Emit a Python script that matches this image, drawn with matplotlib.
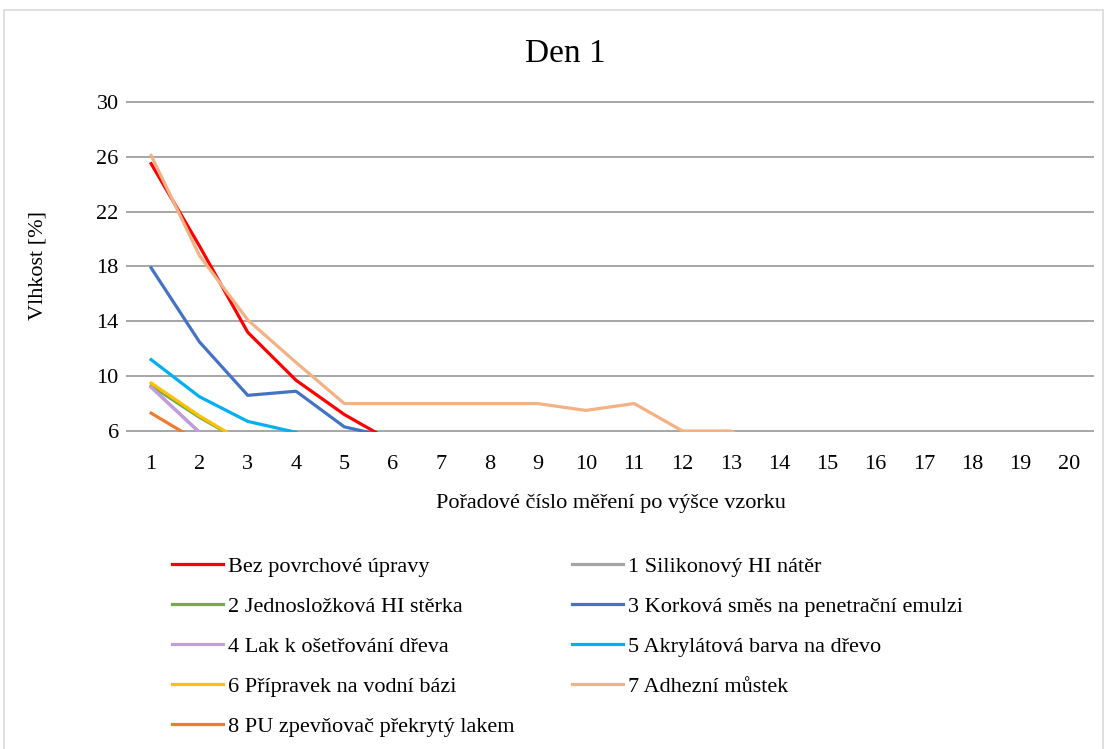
import numpy as np
import matplotlib.pyplot as plt
from matplotlib.patches import Rectangle

plt.rcParams.update({'font.family': 'Liberation Serif', 'font.size': 16})

nan = np.nan
x = np.arange(1, 21)

# values below 6 are hidden by the axis minimum, only the first one is kept
series_names = ['Bez povrchové úpravy', '1 Silikonový HI nátěr', '2 Jednosložková HI stěrka',
                '3 Korková směs na penetrační emulzi', '4 Lak k ošetřování dřeva',
                '5 Akrylátová barva na dřevo', '6 Přípravek na vodní bázi',
                '7 Adhezní můstek', '8 PU zpevňovač překrytý lakem']
bez = [25.5, 19.5, 13.2, 9.7, 7.2, 5.2] + [nan]*14
silikon = [9.2, 5.9] + [nan]*18
sterka = [9.3, 7.0, 5.0] + [nan]*17
korek = [17.9, 12.5, 8.6, 8.9, 6.3, 5.5] + [nan]*14
lak = [9.2, 5.9] + [nan]*18
akryl = [11.2, 8.5, 6.7, 5.9] + [nan]*16
pripravek = [9.5, 7.1, 5.0] + [nan]*17
adhez = [26.1, 18.8, 14.1, 11.0, 8.0, 8.0, 8.0, 8.0, 8.0, 7.5, 8.0, 6.0, 6.0, 4.0] + [nan]*6
pu = [7.3, 5.2] + [nan]*18
all_series = [bez, silikon, sterka, korek, lak, akryl, pripravek, adhez, pu]
colors = ['#ff0000', '#a5a5a5', '#70ad47', '#4472c4', '#c39be3',
          '#00b0f0', '#ffc000', '#f4b183', '#ed7d31']

fig = plt.figure(figsize=(11.1, 7.49), dpi=100)
fig.patches.append(Rectangle((0.004, -0.05), 0.99, 1.036, transform=fig.transFigure,
                             fill=False, edgecolor='#d9d9d9', linewidth=1.2))

ax = fig.add_axes([0.1144, 0.4246, 0.8703, 0.4392])
clip = Rectangle((0, -0.004), 1, 1.008, transform=ax.transAxes)
lines = []
for name, vals, c in zip(series_names, all_series, colors):
    ln, = ax.plot(x, vals, color=c, linewidth=2.3, label=name, solid_joinstyle='round')
    ln.set_clip_path(clip)
    lines.append(ln)

ax.set_xlim(0.5, 20.5)
ax.set_ylim(6, 30)
ax.set_yticks(np.arange(6, 31, 4))
ax.set_xticks(x)
ax.grid(axis='y', color='#a6a6a6', linewidth=1.4)
for gl in ax.get_ygridlines():
    gl.set_clip_on(False)
ax.set_axisbelow(True)
for s in ax.spines.values():
    s.set_visible(False)
ax.tick_params(length=0, labelsize=16)
ax.tick_params(axis='x', pad=17)
ax.tick_params(axis='y', pad=6)

fig.text(0.509, 0.928, 'Den 1', ha='center', va='center', fontsize=24)
fig.text(0.034, 0.646, 'Vlhkost [%]', rotation=90, ha='center', va='center', fontsize=16)
fig.text(0.55, 0.328, 'Pořadové číslo měření po výšce vzorku', ha='center', va='center', fontsize=16)

# legend in two columns, like the original
left = [0, 2, 4, 6, 8]
right = [1, 3, 5, 7]
for idx, xpos in [(left, 172/1110), (right, 572/1110)]:
    fig.legend([lines[i] for i in idx], [series_names[i] for i in idx],
               loc='upper left', bbox_to_anchor=(xpos, 1 - 556/749), frameon=False,
               fontsize=16, handlelength=2.3, handletextpad=0.2, labelspacing=0.88,
               borderpad=0, borderaxespad=0)

fig.savefig('out.png', dpi=100)
